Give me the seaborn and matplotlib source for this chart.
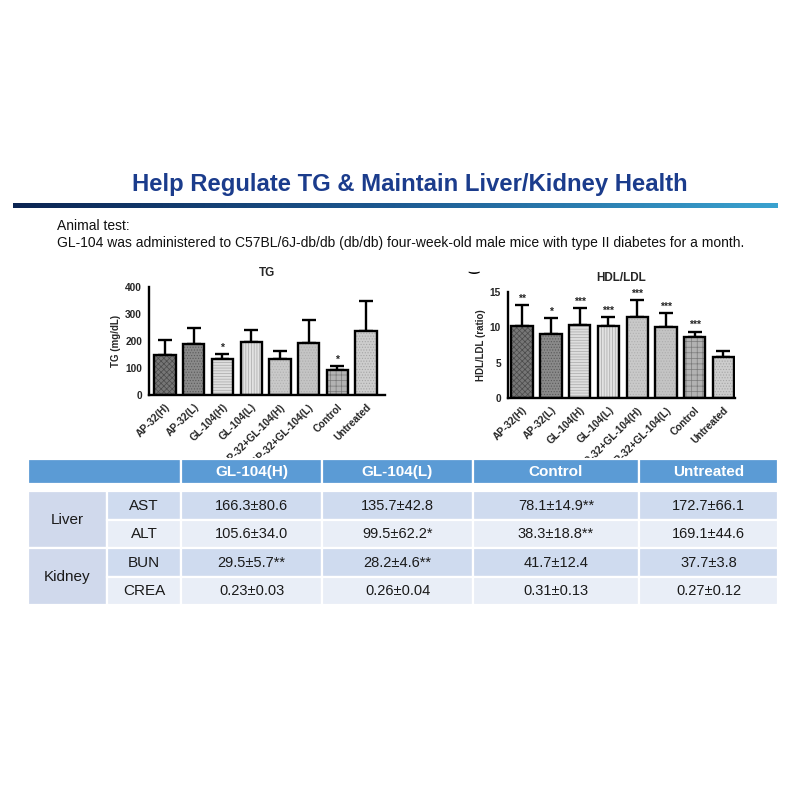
import numpy as np
import pandas as pd
import matplotlib
matplotlib.use("Agg")
import matplotlib.pyplot as plt
from matplotlib.patches import Rectangle
from matplotlib.colors import LinearSegmentedColormap
import seaborn as sns

# ---------------- data ----------------
groups = ["AP-32(H)", "AP-32(L)", "GL-104(H)", "GL-104(L)",
          "AP-32+GL-104(H)", "AP-32+GL-104(L)", "Control", "Untreated"]
tg_mean = [147, 190, 132, 196, 134, 191, 94, 237]
tg_sd = [55, 59, 21, 46, 29, 87, 13, 112]
tg_sig = ["", "", "*", "", "", "", "*", ""]
hdl_mean = [10.2, 9.05, 10.35, 10.2, 11.4, 10.1, 8.6, 5.8]
hdl_sd = [2.95, 2.3, 2.35, 1.2, 2.4, 1.95, 0.8, 0.85]
hdl_sig = ["**", "*", "***", "***", "***", "***", "***", ""]
tg_ticks = [0, 100, 200, 300, 400]
hdl_ticks = [0, 5, 10, 15]

tbl_cols = ["GL-104(H)", "GL-104(L)", "Control", "Untreated"]
tbl_organs = ["Liver", "Kidney"]
tbl_params = ["AST", "ALT", "BUN", "CREA"]
tbl_ghigh = ["166.3±80.6", "105.6±34.0", "29.5±5.7**", "0.23±0.03"]
tbl_glow = ["135.7±42.8", "99.5±62.2*", "28.2±4.6**", "0.26±0.04"]
tbl_control = ["78.1±14.9**", "38.3±18.8**", "41.7±12.4", "0.31±0.13"]
tbl_untreated = ["172.7±66.1", "169.1±44.6", "37.7±3.8", "0.27±0.12"]

title = "Help Regulate TG & Maintain Liver/Kidney Health"
intro1 = "Animal test:"
intro2 = ("GL-104 was administered to C57BL/6J-db/db (db/db) four-week-old male "
          "mice with type II diabetes for a month.")

# ---------------- style ----------------
sns.set_style("white")
plt.rcParams['font.family'] = ['Liberation Sans', 'DejaVu Sans']
plt.rcParams['hatch.linewidth'] = 0.5

bar_faces = ["#767676", "#8a8a8a", "#dedede", "#e2e2e2",
             "#c9c9c9", "#c4c4c4", "#b2b2b2", "#cdcdcd"]
bar_hatch = ["xxxxxx", "......", "------", "||||||", "......", "......", "+++", "......"]
hatch_cols = ["#4a4a4a", "#5a5a5a", "#a8a8a8", "#a8a8a8",
              "#b0b0b0", "#adadad", "#7a7a7a", "#a5a5a5"]

fig = plt.figure(figsize=(8, 8), dpi=100)
W = H = 800.0


def fax(x0, y0, x1, y1):
    return fig.add_axes([x0 / W, 1 - y1 / H, (x1 - x0) / W, (y1 - y0) / H])


# title + gradient rule
fig.text(410 / W, 1 - 185 / H, title, ha="center", va="center",
         fontsize=17.2, fontweight="bold", color="#1b3c8c")
gax = fax(13, 203, 778, 208)
cmap = LinearSegmentedColormap.from_list("rule", ["#0b2452", "#1d5a92", "#3aa2cf"])
gax.imshow(np.linspace(0, 1, 256)[None, :], aspect="auto", cmap=cmap)
gax.set_axis_off()

fig.text(57 / W, 1 - 226 / H, intro1, ha="left", va="center", fontsize=10, color="#111111")
fig.text(57 / W, 1 - 243 / H, intro2, ha="left", va="center", fontsize=10, color="#111111")


def bar_chart(ax, mean, sd, sig, ticks, ylab, ttl, xlim, star_fs):
    df = pd.DataFrame({"group": groups, "value": mean})
    sns.barplot(data=df, x="group", y="value", hue="group", palette=bar_faces,
                legend=False, ax=ax, width=0.74, edgecolor="black",
                linewidth=1.7, errorbar=None, zorder=2)
    bars = list(ax.patches)
    for p, h, hc in zip(bars, bar_hatch, hatch_cols):
        ov = Rectangle((p.get_x(), p.get_y()), p.get_width(), p.get_height(),
                       facecolor="none", edgecolor=hc, hatch=h, linewidth=0,
                       zorder=2.5)
        ax.add_patch(ov)
        p.set_zorder(3)
        p.set_facecolor("none")
        under = Rectangle((p.get_x(), p.get_y()), p.get_width(), p.get_height(),
                          facecolor=bar_faces[bars.index(p)], linewidth=0, zorder=2)
        ax.add_patch(under)
    xs = np.arange(len(groups))
    ax.errorbar(xs, mean, yerr=[np.zeros(len(sd)), sd], fmt="none",
                ecolor="black", elinewidth=1.7, capsize=5, capthick=1.7, zorder=1)
    top = np.array(mean) + np.array(sd)
    for x, t, s in zip(xs, top, sig):
        if s:
            ax.text(x, t + ticks[-1] * 0.012, s, ha="center", va="bottom",
                    fontsize=star_fs, fontweight="bold")
    ax.set_ylim(0, ticks[-1])
    ax.set_yticks(ticks)
    ax.set_xlim(*xlim)
    ax.set_xlabel("")
    ax.set_ylabel(ylab, fontsize=7, fontweight="bold", labelpad=3)
    ax.set_title(ttl, fontsize=8.5, fontweight="bold", pad=8)
    ax.set_xticks(xs)
    ax.set_xticklabels(groups, rotation=45, ha="right", rotation_mode="anchor",
                       fontsize=7.3, fontweight="bold")
    for lab in ax.get_yticklabels():
        lab.set_fontweight("bold")
        lab.set_fontsize(7.3)
    sns.despine(ax=ax)
    for sp in ("left", "bottom"):
        ax.spines[sp].set_linewidth(1.7)
        ax.spines[sp].set_color("black")
        ax.spines[sp].set_zorder(4)
    ax.tick_params(axis="both", direction="out", length=3.5, width=1.3,
                   color="black", pad=1.5)
    ax.set_facecolor("none")


ax1 = fax(149, 287, 385, 395)
bar_chart(ax1, tg_mean, tg_sd, tg_sig, tg_ticks, "TG (mg/dL)", "TG", (-0.56, 7.66), 7.5)
ax2 = fax(508, 292, 735, 398)
bar_chart(ax2, hdl_mean, hdl_sd, hdl_sig, hdl_ticks, "HDL/LDL (ratio)", "HDL/LDL", (-0.49, 7.4), 7.5)

# small stray glyph fragment at the top-left of the HDL/LDL panel
fig.text(474 / W, 1 - 267 / H, "\u203F", ha="center", va="center",
         fontsize=9, fontweight="bold", color="black", family=["DejaVu Sans"])

# ---------------- table ----------------
tax = fax(0, 0, 800, 800)
tax.set_xlim(0, W)
tax.set_ylim(H, 0)
tax.set_axis_off()

col_edges = [28, 107, 181, 322, 473, 639, 778]
head_top, head_bot = 459, 484
row_edges = [491, 519.5, 548, 576.5, 605]
c_head = "#5b9bd5"
c_dark = "#cfdbef"
c_light = "#e9eef7"
c_group = "#d0d9ec"
gap = 1.6


def cell(x0, x1, y0, y1, fc, txt="", bold=False, color="#1a1a1a", fs=10.5):
    tax.add_patch(Rectangle((x0, y0), x1 - x0, y1 - y0, facecolor=fc,
                            edgecolor="white", linewidth=gap))
    if txt:
        tax.text((x0 + x1) / 2, (y0 + y1) / 2 + 0.5, txt, ha="center", va="center",
                 fontsize=fs, fontweight="bold" if bold else "normal", color=color)


cell(col_edges[0], col_edges[2], head_top, head_bot, c_head)
for j, name in enumerate(tbl_cols):
    cell(col_edges[j + 2], col_edges[j + 3], head_top, head_bot, c_head,
         name, bold=True, color="white", fs=11)

for g, organ in enumerate(tbl_organs):
    cell(col_edges[0], col_edges[1], row_edges[2 * g], row_edges[2 * g + 2],
         c_group, organ, fs=11)

columns = [tbl_ghigh, tbl_glow, tbl_control, tbl_untreated]
for i, prm in enumerate(tbl_params):
    fc = c_dark if i % 2 == 0 else c_light
    cell(col_edges[1], col_edges[2], row_edges[i], row_edges[i + 1], fc, prm, fs=11)
    for j, colvals in enumerate(columns):
        cell(col_edges[j + 2], col_edges[j + 3], row_edges[i], row_edges[i + 1],
             fc, colvals[i], fs=10.5)

fig.savefig("out.png", dpi=100)
